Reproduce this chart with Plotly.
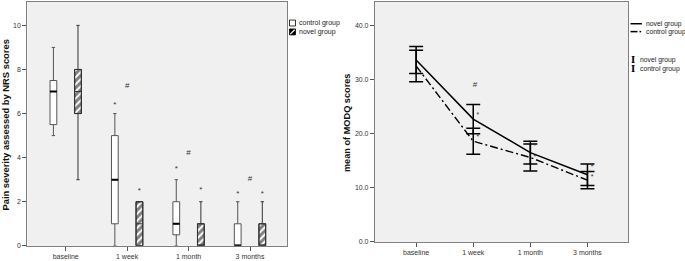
import plotly.graph_objects as go

# ---------------- data ----------------
categories = ["baseline", "1 week", "1 month", "3 months"]

# NRS pain scores (box statistics)
ctrl_low = [5, 0, 0, 0]
ctrl_q1 = [5.5, 1, 0.5, 0]
ctrl_med = [7, 3, 1, 0]
ctrl_q3 = [7.5, 5, 2, 1]
ctrl_high = [9, 6, 3, 2]

novel_low = [3, 0, 0, 0]
novel_q1 = [6, 0, 0, 0]
novel_med = [7, 1, 0, 0]
novel_q3 = [8, 2, 1, 1]
novel_high = [10, 2, 2, 2]

ctrl_star_nrs = [None, 6.4, 3.5, 2.35]
novel_star_nrs = [None, 2.5, 2.55, 2.35]
hash_nrs = [None, 7.25, 4.2, 3.05]

# MODQ means and error bars
novel_mean = [33.6, 22.7, 16.5, 12.4]
novel_err = [2.5, 2.7, 2.1, 2.0]
ctrl_mean = [32.5, 18.6, 15.6, 11.4]
ctrl_err = [2.9, 2.4, 2.5, 1.6]

novel_star_m = [None, 23.4, 17.7, 13.8]
ctrl_star_m = [None, 19.3, 15.6, 12.0]
hash_m = [None, 29.0, None, None]

# ---------------- figure ----------------
W, H = 685, 261
FONT = "Liberation Sans, Arial, sans-serif"


def px(x):
    return x / W


def py(y):
    return 1 - y / H


idx = list(range(len(categories)))
off = 0.2
bw = 0.11
ctrl_x = [i - off for i in idx]
novel_x = [i + off for i in idx]

fig = go.Figure()

# hatched novel boxes (bars spanning q1..q3)
fig.add_trace(go.Bar(
    x=novel_x, base=novel_q1, y=[b - a for a, b in zip(novel_q1, novel_q3)],
    width=bw, xaxis="x", yaxis="y", showlegend=False, hoverinfo="skip",
    marker=dict(color="white", line=dict(color="#222", width=1),
                pattern=dict(shape="/", fgcolor="black", bgcolor="white",
                             size=5, solidity=0.6)),
))

# control boxes
fig.add_trace(go.Box(
    x=ctrl_x, q1=ctrl_q1, median=ctrl_med, q3=ctrl_q3,
    lowerfence=ctrl_low, upperfence=ctrl_high, width=bw,
    fillcolor="white", line=dict(color="#555", width=1), whiskerwidth=0.5,
    boxpoints=False, xaxis="x", yaxis="y", showlegend=False,
))
# control medians (thick)
fig.add_trace(go.Box(
    x=ctrl_x, q1=ctrl_med, median=ctrl_med, q3=ctrl_med,
    lowerfence=ctrl_med, upperfence=ctrl_med, width=bw,
    fillcolor="black", line=dict(color="black", width=2), whiskerwidth=0,
    boxpoints=False, xaxis="x", yaxis="y", showlegend=False,
))
# novel boxes outline / whiskers (transparent fill over hatching)
fig.add_trace(go.Box(
    x=novel_x, q1=novel_q1, median=novel_med, q3=novel_q3,
    lowerfence=novel_low, upperfence=novel_high, width=bw,
    fillcolor="rgba(0,0,0,0)", line=dict(color="#333", width=1), whiskerwidth=0.5,
    boxpoints=False, xaxis="x", yaxis="y", showlegend=False,
))

# significance markers (left)
for xs, ys, t in [(ctrl_x, ctrl_star_nrs, "*"), (novel_x, novel_star_nrs, "*"), (idx, hash_nrs, "#")]:
    fig.add_trace(go.Scatter(
        x=xs, y=ys, mode="text", text=[t] * len(xs),
        textfont=dict(family=FONT, size=8, color="#333"),
        xaxis="x", yaxis="y", showlegend=False, hoverinfo="skip",
    ))

# right: MODQ lines with error bars
fig.add_trace(go.Scatter(
    x=idx, y=ctrl_mean, mode="lines",
    line=dict(color="black", width=1.4, dash="8px,3px,2px,3px"),
    error_y=dict(type="data", array=ctrl_err, color="black", thickness=1.5, width=7),
    xaxis="x2", yaxis="y2", showlegend=False,
))
fig.add_trace(go.Scatter(
    x=idx, y=novel_mean, mode="lines",
    line=dict(color="black", width=1.5),
    error_y=dict(type="data", array=novel_err, color="black", thickness=1.5, width=7),
    xaxis="x2", yaxis="y2", showlegend=False,
))
for ys, t in [(novel_star_m, "*"), (ctrl_star_m, "*")]:
    fig.add_trace(go.Scatter(
        x=[i + 0.08 for i in idx], y=ys, mode="text", text=[t] * len(idx),
        textfont=dict(family=FONT, size=7, color="#333"),
        xaxis="x2", yaxis="y2", showlegend=False, hoverinfo="skip",
    ))
fig.add_trace(go.Scatter(
    x=[i + 0.03 for i in idx], y=hash_m, mode="text", text=["#"] * len(idx),
    textfont=dict(family=FONT, size=8, color="#333"),
    xaxis="x2", yaxis="y2", showlegend=False, hoverinfo="skip",
))

axis_common = dict(
    showline=True, mirror=True, linecolor="#808080", linewidth=1.2,
    showgrid=False, zeroline=False, ticks="outside", ticklen=4,
    tickcolor="#555", tickwidth=1, tickfont=dict(family=FONT, size=7, color="#333"),
)

fig.update_layout(
    width=W, height=H, margin=dict(l=0, r=0, t=0, b=0),
    paper_bgcolor="white", plot_bgcolor="#f0f0f0",
    showlegend=False, barmode="overlay",
    font=dict(family=FONT),
    xaxis=dict(domain=[px(27.3), px(287.3)], range=[-0.625, 3.607],
               tickvals=idx, ticktext=categories, anchor="y", **axis_common),
    yaxis=dict(domain=[py(248.7), py(1.8)], range=[0, 11.07],
               tickvals=[0, 2, 4, 6, 8, 10], anchor="x", **axis_common),
    xaxis2=dict(domain=[px(375), px(628)], range=[-0.72, 3.71],
                tickvals=idx, ticktext=categories, anchor="y2", **axis_common),
    yaxis2=dict(domain=[py(244.7), py(1.8)], range=[0, 44.37],
                tickvals=[0, 10, 20, 30, 40], tickformat=".1f", anchor="x2", **axis_common),
)

annotations = [
    dict(text="<b>Pain severity assessed by NRS scores</b>", x=px(5.5), y=py(126.5),
         textangle=-90, font=dict(family=FONT, size=9.4, color="#111")),
    dict(text="<b>mean of MODQ scores</b>", x=px(346.5), y=py(124),
         textangle=-90, font=dict(family=FONT, size=9.2, color="#111")),
]
for a in annotations:
    a.update(xref="paper", yref="paper", showarrow=False, xanchor="center", yanchor="middle")

legend_texts = [
    ("control group", 297, 23.3, 7),
    ("novel group", 297, 32.3, 7),
    ("novel group", 643.5, 24, 6.8),
    ("control group", 644, 32.5, 6.8),
    ("novel group", 637.5, 60.7, 6.8),
    ("control group", 637.5, 69.3, 6.8),
]
for t, x, y, fs in legend_texts:
    annotations.append(dict(text=t, x=px(x), y=py(y), xref="paper", yref="paper",
                            showarrow=False, xanchor="left", yanchor="middle",
                            font=dict(family=FONT, size=fs, color="#222")))
for y in [60.7, 69.3]:
    annotations.append(dict(text="<b>I</b>", x=px(632.7), y=py(y), xref="paper", yref="paper",
                            showarrow=False, xanchor="center", yanchor="middle",
                            font=dict(family="DejaVu Serif, serif", size=9, color="black")))

shapes = [
    dict(type="rect", x0=px(289.5), x1=px(295.5), y0=py(26.3), y1=py(20.3),
         fillcolor="white", line=dict(color="black", width=0.8)),
    dict(type="rect", x0=px(289.5), x1=px(295.5), y0=py(35.3), y1=py(29.3),
         fillcolor="black", line=dict(color="black", width=0.8)),
    dict(type="line", x0=px(290.3), x1=px(294.7), y0=py(34.5), y1=py(30.1),
         line=dict(color="white", width=1.2)),
    dict(type="line", x0=px(630.5), x1=px(642), y0=py(24), y1=py(24),
         line=dict(color="black", width=1.5)),
    dict(type="line", x0=px(630.5), x1=px(637.5), y0=py(32), y1=py(32),
         line=dict(color="black", width=1.5)),
    dict(type="line", x0=px(639.5), x1=px(641.2), y0=py(32), y1=py(32),
         line=dict(color="black", width=1.5)),
]
for s in shapes:
    s.update(xref="paper", yref="paper")

fig.update_layout(annotations=annotations, shapes=shapes)

fig.write_html(
    "out.html",
    config={"displayModeBar": False},
    post_script="document.body.style.margin='0px';document.body.style.overflow='hidden';",
)
